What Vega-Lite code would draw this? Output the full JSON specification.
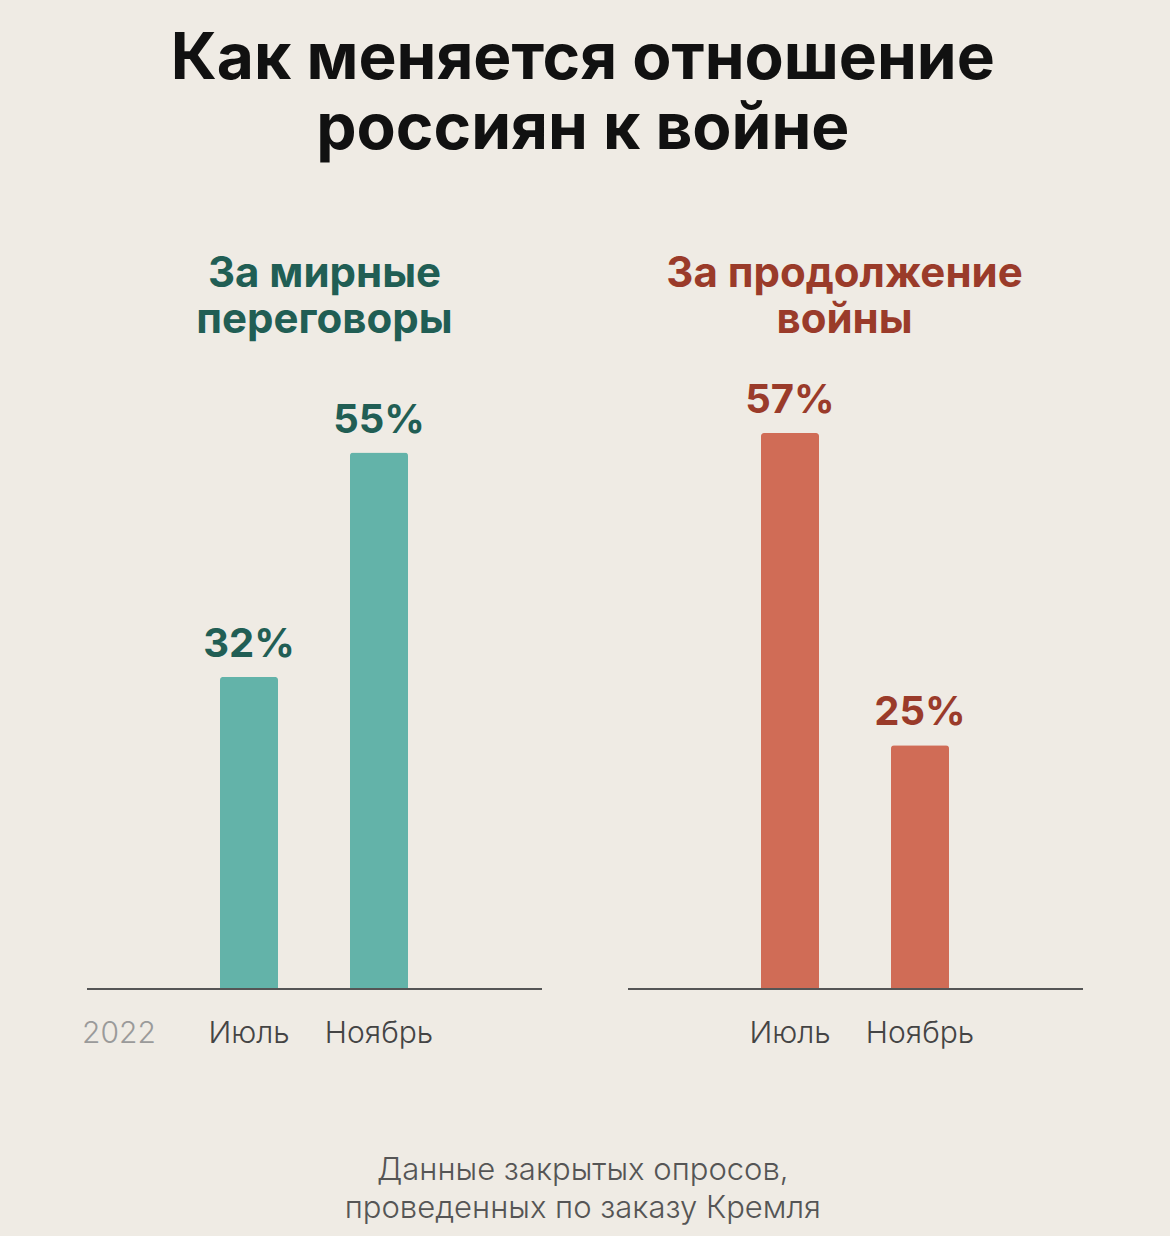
{
  "$schema": "https://vega.github.io/schema/vega-lite/v6.json",
  "background": "#efebe4",
  "padding": {"left": 81, "right": 87, "top": 28, "bottom": 30},
  "config": {"view": {"stroke": null}, "font": "Inter"},
  "title": {"text": ["Как меняется отношение", "россиян к войне"], "fontSize": 64, "fontWeight": "bold", "color": "#111111", "lineHeight": 70, "anchor": "middle", "offset": 91, "font": "Inter"},
  "vconcat": [
    {
      "title": {"text": ["Данные закрытых опросов,", "проведенных по заказу Кремля"], "orient": "bottom", "fontSize": 31, "fontWeight": 300, "color": "#555555", "lineHeight": 38, "offset": 108, "anchor": "middle", "font": "Inter"},
      "spacing": 84,
      "hconcat": [
        {
          "width": 455,
          "height": 634,
          "title": {"text": ["За мирные", "переговоры"], "fontSize": 42, "fontWeight": "bold", "color": "#215e54", "lineHeight": 46, "dx": 10, "offset": 13, "anchor": "middle"},
          "data": {"values": [{"month": "Июль", "value": 0.32}, {"month": "Ноябрь", "value": 0.55}]},
          "encoding": {
            "x": {"field": "month", "type": "nominal", "scale": {"domain": ["2022", "Июль", "Ноябрь"], "range": [-33, 357], "paddingInner": 0, "paddingOuter": 0},
              "axis": {"title": null, "domain": false, "ticks": false, "labelAngle": 0, "labelFontSize": 30, "labelFontWeight": 300, "labelPadding": 29, "labelColor": {"condition": {"test": "datum.value === '2022'", "value": "#9a9a9a"}, "value": "#444444"}}},
            "y": {"field": "value", "type": "quantitative", "scale": {"domain": [0, 0.65]}, "axis": null}
          },
          "layer": [
            {"mark": {"type": "bar", "width": 58, "color": "#63b3a9", "cornerRadiusEnd": 3}},
            {"mark": {"type": "text", "dy": -12, "baseline": "bottom", "fontSize": 40, "fontWeight": "bold", "color": "#215e54"}, "encoding": {"text": {"field": "value", "type": "quantitative", "format": ".0%"}}},
            {"mark": {"type": "rule", "color": "#555555", "strokeWidth": 2}, "encoding": {"x": null, "y": {"datum": 0}}}
          ]
        },
        {
          "width": 455,
          "height": 634,
          "title": {"text": ["За продолжение", "войны"], "fontSize": 42, "fontWeight": "bold", "color": "#9a3b2a", "lineHeight": 46, "dx": -11, "offset": 13, "anchor": "middle"},
          "data": {"values": [{"month": "Июль", "value": 0.57}, {"month": "Ноябрь", "value": 0.25}]},
          "encoding": {
            "x": {"field": "month", "type": "nominal", "scale": {"domain": ["Июль", "Ноябрь"], "range": [97, 357], "paddingInner": 0, "paddingOuter": 0},
              "axis": {"title": null, "domain": false, "ticks": false, "labelAngle": 0, "labelFontSize": 30, "labelFontWeight": 300, "labelPadding": 29, "labelColor": "#444444"}},
            "y": {"field": "value", "type": "quantitative", "scale": {"domain": [0, 0.65]}, "axis": null}
          },
          "layer": [
            {"mark": {"type": "bar", "width": 58, "color": "#d06c56", "cornerRadiusEnd": 3}},
            {"mark": {"type": "text", "dy": -12, "baseline": "bottom", "fontSize": 40, "fontWeight": "bold", "color": "#9a3b2a"}, "encoding": {"text": {"field": "value", "type": "quantitative", "format": ".0%"}}},
            {"mark": {"type": "rule", "color": "#555555", "strokeWidth": 2}, "encoding": {"x": null, "y": {"datum": 0}}}
          ]
        }
      ]
    }
  ]
}
